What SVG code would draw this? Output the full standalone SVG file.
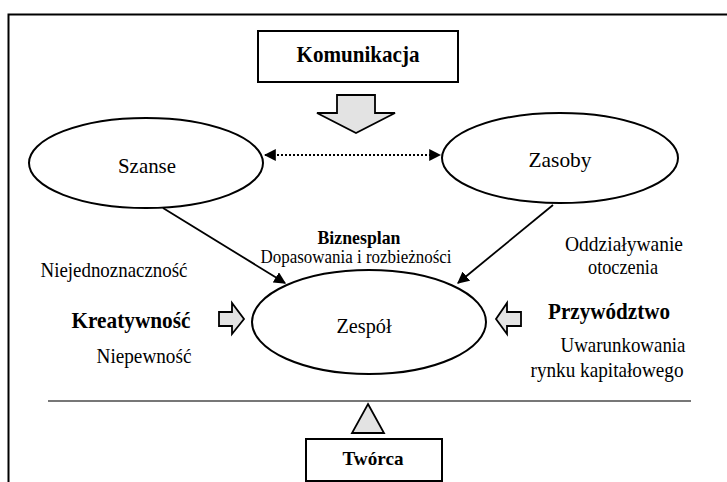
<svg xmlns="http://www.w3.org/2000/svg" width="727" height="482" viewBox="0 0 727 482">
<defs>
<style>
text{font-family:"Liberation Serif","Times New Roman",serif;fill:#000;text-anchor:middle}
.n{font-size:21px}
.s{font-size:19px}
.b{font-weight:bold;font-size:19px}
.bl{font-weight:bold;font-size:23px}
.node{fill:#fff;stroke:#000;stroke-width:2}
.blk{fill:#e3e3e3;stroke:#000;stroke-width:1.8;stroke-linejoin:miter}
.edge{stroke:#000;stroke-width:1.8;fill:none}
</style>
<marker id="ah2" viewBox="0 0 10 10" refX="9" refY="5" markerWidth="12" markerHeight="12" orient="auto-start-reverse" markerUnits="userSpaceOnUse">
<path d="M0,0 L10,5 L0,10 z" fill="#000"/>
</marker>
</defs>
<rect x="0" y="0" width="727" height="482" fill="#fff"/>
<path d="M8.5,490 L8.5,14.5 L740,14.5" fill="none" stroke="#000" stroke-width="2"/>
<line x1="48" y1="401" x2="691" y2="401" stroke="#777" stroke-width="2"/>

<g id="komunikacja">
<rect x="258" y="31" width="200" height="51" class="node"/>
<text x="358" y="62" class="bl" textLength="123" lengthAdjust="spacingAndGlyphs">Komunikacja</text>
</g>
<g id="arrow-down">
<path d="M337,95 L375,95 L375,113 L395,113 L356,133 L317,113 L337,113 z" class="blk"/>
</g>
<g id="szanse">
<ellipse cx="146" cy="163" rx="117" ry="45" class="node"/>
<text x="147" y="173" class="n" textLength="58" lengthAdjust="spacingAndGlyphs">Szanse</text>
</g>
<g id="zasoby">
<ellipse cx="560" cy="158" rx="118" ry="45" class="node"/>
<text x="560" y="167" class="n" textLength="63" lengthAdjust="spacingAndGlyphs">Zasoby</text>
</g>
<g id="zespol">
<ellipse cx="369" cy="322" rx="117" ry="52" class="node"/>
<text x="364" y="333" class="n" textLength="55" lengthAdjust="spacingAndGlyphs">Zespół</text>
</g>
<g id="biznesplan">
<text x="359" y="244" class="b" textLength="83" lengthAdjust="spacingAndGlyphs">Biznesplan</text>
<text x="356" y="263" class="s" textLength="191" lengthAdjust="spacingAndGlyphs">Dopasowania i rozbieżności</text>
</g>
<g id="labels">
<text x="114" y="277" class="n" textLength="147" lengthAdjust="spacingAndGlyphs">Niejednoznaczność</text>
<text x="624" y="251" class="n" textLength="118" lengthAdjust="spacingAndGlyphs">Oddziaływanie</text>
<text x="623" y="274" class="n" textLength="70" lengthAdjust="spacingAndGlyphs">otoczenia</text>
<text x="131" y="328" class="bl" textLength="119" lengthAdjust="spacingAndGlyphs">Kreatywność</text>
<text x="609" y="319" class="bl" textLength="122" lengthAdjust="spacingAndGlyphs">Przywództwo</text>
<text x="144" y="363" class="n" textLength="95" lengthAdjust="spacingAndGlyphs">Niepewność</text>
<text x="623" y="352" class="n" textLength="125" lengthAdjust="spacingAndGlyphs">Uwarunkowania</text>
<text x="607" y="377" class="n" textLength="153" lengthAdjust="spacingAndGlyphs">rynku kapitałowego</text>
</g>
<g id="kreatywnosc-arrow">
<path d="M219,312 L232,312 L232,303 L244,319 L232,334 L232,326 L219,326 z" class="blk"/>
</g>
<g id="przywodztwo-arrow">
<path d="M521,312 L507,312 L507,303 L496,319 L507,334 L507,326 L521,326 z" class="blk"/>
</g>
<g id="tworca">
<path d="M368,404 L384,433 L352,433 z" class="blk"/>
<rect x="306" y="439" width="136" height="42" class="node" stroke-width="1.5"/>
<text x="373" y="465" class="b" textLength="61" lengthAdjust="spacingAndGlyphs">Twórca</text>
</g>
<g id="connectors">
<line x1="265" y1="155" x2="440" y2="155" class="edge" stroke-dasharray="2,2" marker-start="url(#ah2)" marker-end="url(#ah2)"/>
<line x1="163" y1="208" x2="285" y2="283" class="edge" stroke-width="1.5" marker-end="url(#ah2)"/>
<line x1="553" y1="205" x2="458" y2="283" class="edge" stroke-width="1.5" marker-end="url(#ah2)"/>
</g>
</svg>
